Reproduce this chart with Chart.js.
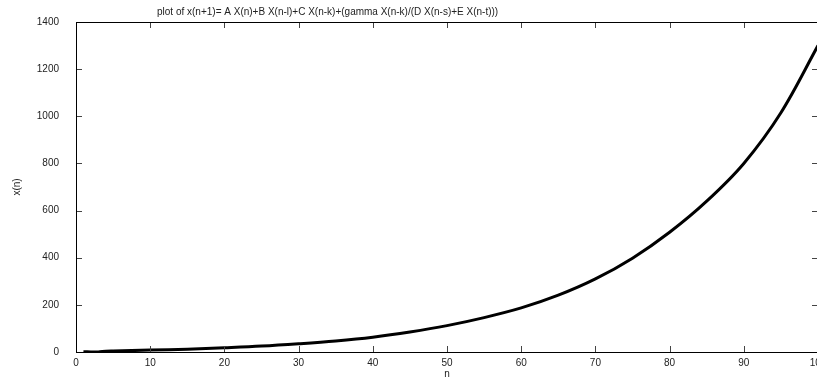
<!DOCTYPE html>
<html>
<head>
<meta charset="utf-8">
<script src="https://cdn.jsdelivr.net/npm/chart.js@4.4.1/dist/chart.umd.min.js"></script>
<style>
  html, body { margin: 0; padding: 0; background: #fff; overflow: hidden; }
  #wrap { position: relative; width: 820px; height: 380px; }
</style>
</head>
<body>
<div id="wrap"><canvas id="plot"></canvas></div>
<script>
// values
const nValues = [1, 2, 3, 4, 5, 10, 15, 20, 25, 30, 35, 40, 45, 50, 55, 60, 65, 70, 75, 80, 85, 90, 95, 100];
const xnValues = [1, 0.5, 0.3, 3, 4, 8, 12, 18, 25, 35, 47, 63, 85, 112, 146, 187, 241, 310, 398, 508, 640, 800, 1015, 1300];
const xTicks = [0, 10, 20, 30, 40, 50, 60, 70, 80, 90, 100];
const yTicks = [0, 200, 400, 600, 800, 1000, 1200, 1400];

const titleText = 'plot of x(n+1)= A X(n)+B X(n-l)+C X(n-k)+(gamma X(n-k)/(D X(n-s)+E X(n-t)))';
const FONT = 'Liberation Sans, Arial, sans-serif';

// gnuplot style frame with inward ticks on all four sides
const frameTicks = {
    id: 'frameTicks',
    afterDatasetsDraw(chart) {
        const {ctx, chartArea: a, scales: {x, y}} = chart;
        const len = 6;
        ctx.save();
        ctx.strokeStyle = '#444';
        ctx.lineWidth = 1;
        ctx.beginPath();
        xTicks.forEach(v => {
            if (v === 0 || v === 100) return;
            const px = Math.round(x.getPixelForValue(v)) + 0.5;
            ctx.moveTo(px, a.bottom); ctx.lineTo(px, a.bottom - len);
            ctx.moveTo(px, a.top); ctx.lineTo(px, a.top + len);
        });
        yTicks.forEach(v => {
            if (v === 0 || v === 1400) return;
            const py = Math.round(y.getPixelForValue(v)) + 0.5;
            ctx.moveTo(a.left, py); ctx.lineTo(a.left + len, py);
            ctx.moveTo(a.right, py); ctx.lineTo(a.right - len, py);
        });
        ctx.stroke();

        ctx.strokeStyle = '#000';
        ctx.strokeRect(Math.round(a.left) + 0.5, Math.round(a.top) + 0.5,
            Math.round(a.right - a.left), Math.round(a.bottom - a.top));

        ctx.fillStyle = '#222';
        ctx.font = '10px ' + FONT;
        ctx.textAlign = 'left';
        ctx.textBaseline = 'middle';
        ctx.fillText(titleText, 157, 12);
        ctx.restore();
    }
};

new Chart(document.getElementById('plot'), {
    type: 'line',
    data: {
        datasets: [{
            data: nValues.map((n, i) => ({x: n, y: xnValues[i]})),
            borderColor: '#000',
            borderWidth: 3,
            pointRadius: 0,
            tension: 0.35,
            fill: false
        }]
    },
    options: {
        responsive: true,
        maintainAspectRatio: false,
        animation: false,
        layout: { padding: { top: 22, right: 2, left: 0, bottom: 0 } },
        plugins: {
            legend: { display: false },
            tooltip: { enabled: false },
            title: { display: false }
        },
        scales: {
            x: {
                type: 'linear',
                min: 0,
                max: 100,
                afterFit(scale) { scale.height = 28; scale.paddingLeft = 0; scale.paddingRight = 0; },
                afterBuildTicks(scale) { scale.ticks = xTicks.map(v => ({value: v})); },
                grid: { display: false, drawTicks: false },
                border: { display: false },
                ticks: { color: '#222', padding: 5, maxRotation: 0, font: { family: FONT, size: 10 }, callback: v => String(v) },
                title: { display: true, text: 'n', color: '#222', padding: 0, font: { family: FONT, size: 10 } }
            },
            y: {
                type: 'linear',
                min: 0,
                max: 1400,
                afterFit(scale) { scale.width = 76; scale.paddingTop = 0; scale.paddingBottom = 0; },
                afterBuildTicks(scale) { scale.ticks = yTicks.map(v => ({value: v})); },
                grid: { display: false, drawTicks: false },
                border: { display: false },
                ticks: { color: '#222', padding: 17, font: { family: FONT, size: 10 }, callback: v => String(v) },
                title: { display: true, text: 'x(n)', color: '#222', padding: { top: 11, bottom: 0 }, font: { family: FONT, size: 10 } }
            }
        }
    },
    plugins: [frameTicks]
});
</script>
</body>
</html>
